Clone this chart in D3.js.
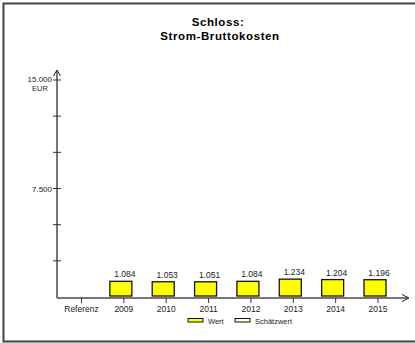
<!DOCTYPE html>
<html><head><meta charset="utf-8">
<script src="https://cdn.jsdelivr.net/npm/d3@7"></script>
<style>body{margin:0;background:#fff;overflow:hidden}svg{display:block;font-family:"Liberation Sans",Arial,sans-serif}</style>
</head><body><script>
const categories = ["Referenz","2009","2010","2011","2012","2013","2014","2015"];
const values = [null,1084,1053,1051,1084,1234,1204,1196];
const yTickValues = [0,2500,5000,7500,10000,12500,15000];
const yTickLabels = {7500:"7.500",15000:"15.000"};
const legendItems = ["Wert","Schätzwert"];

const W=415,H=343;
const svg=d3.select("body").append("svg").attr("width",W).attr("height",H);
// frame: top, left, bottom
svg.append("path").attr("d","M415,3.5 L3.5,3.5 L3.5,341.5 L415,341.5")
  .attr("fill","none").attr("stroke","#444").attr("stroke-width",2);

svg.append("text").attr("x",218).attr("y",26).attr("text-anchor","middle")
  .attr("font-size",11.5).attr("font-weight","bold").attr("letter-spacing",0.6).text("Schloss:");
svg.append("text").attr("x",220).attr("y",40).attr("text-anchor","middle")
  .attr("font-size",11.5).attr("font-weight","bold").attr("letter-spacing",0.6).text("Strom-Bruttokosten");

const x0=57, y0=297;
const x=d3.scalePoint().domain(categories).range([81.5,378]);
const y=d3.scaleLinear().domain([0,15000]).range([y0,80]);
const axisColor="#777";

// y axis
svg.append("line").attr("x1",x0).attr("x2",x0).attr("y1",y0+1).attr("y2",71)
  .attr("stroke",axisColor).attr("stroke-width",2);
svg.append("path").attr("d",`M${x0-3.5},${76} L${x0},${70} L${x0+3.5},${76}`)
  .attr("fill","none").attr("stroke","#222").attr("stroke-width",1);
yTickValues.filter(v=>v>0).forEach(v=>{
  svg.append("line").attr("x1",x0-4).attr("x2",x0+4).attr("y1",y(v)).attr("y2",y(v))
    .attr("stroke","#333").attr("stroke-width",1);
  if(yTickLabels[v]) svg.append("text").attr("x",x0-5).attr("y",y(v)+(v===15000?2:3)).attr("text-anchor","end")
    .attr("font-size",8).attr("fill","#222").text(yTickLabels[v]);
});
svg.append("text").attr("x",40).attr("y",91).attr("text-anchor","middle")
  .attr("font-size",7.5).attr("fill","#222").text("EUR");

// x axis
svg.append("line").attr("x1",x0).attr("x2",408).attr("y1",y0+1).attr("y2",y0+1)
  .attr("stroke",axisColor).attr("stroke-width",2);
svg.append("path").attr("d",`M${402},${y0-2.5} L${409},${y0+1} L${402},${y0+4.5}`)
  .attr("fill","none").attr("stroke","#222").attr("stroke-width",1);
categories.forEach(c=>{
  svg.append("line").attr("x1",x(c)).attr("x2",x(c)).attr("y1",y0+1).attr("y2",y0+6)
    .attr("stroke","#333").attr("stroke-width",1);
  svg.append("text").attr("x",x(c)).attr("y",y0+15).attr("text-anchor","middle")
    .attr("font-size",8.5).attr("fill","#222").text(c);
});

// bars
const bw=22;
categories.forEach((c,i)=>{
  const v=values[i]; if(v==null) return;
  const cx=x(c)-3;
  svg.append("rect").attr("x",cx-bw/2).attr("y",y(v)).attr("width",bw).attr("height",y0-1-y(v))
    .attr("fill","#ffff00").attr("stroke","#111").attr("stroke-width",1.3);
  svg.append("text").attr("x",x(c)+1).attr("y",y(v)-4).attr("text-anchor","middle")
    .attr("font-size",8.5).attr("fill","#222").text(d3.format(",")(v).replace(/,/g,"."));
});

// legend
const defs=svg.append("defs");
const g=defs.append("linearGradient").attr("id","est").attr("x1",0).attr("x2",1).attr("y1",0).attr("y2",1);
g.append("stop").attr("offset","0%").attr("stop-color","#ffffff");
g.append("stop").attr("offset","60%").attr("stop-color","#ffffff");
g.append("stop").attr("offset","100%").attr("stop-color","#ffff00");
const lx=[188,235];
legendItems.forEach((t,i)=>{
  svg.append("rect").attr("x",lx[i]).attr("y",318.5).attr("width",15).attr("height",3.5)
    .attr("fill",i===0?"#ffff00":"url(#est)").attr("stroke","#111").attr("stroke-width",1);
  svg.append("text").attr("x",lx[i]+20).attr("y",323.5).attr("font-size",7.5).attr("fill","#222").text(t);
});
</script></body></html>
